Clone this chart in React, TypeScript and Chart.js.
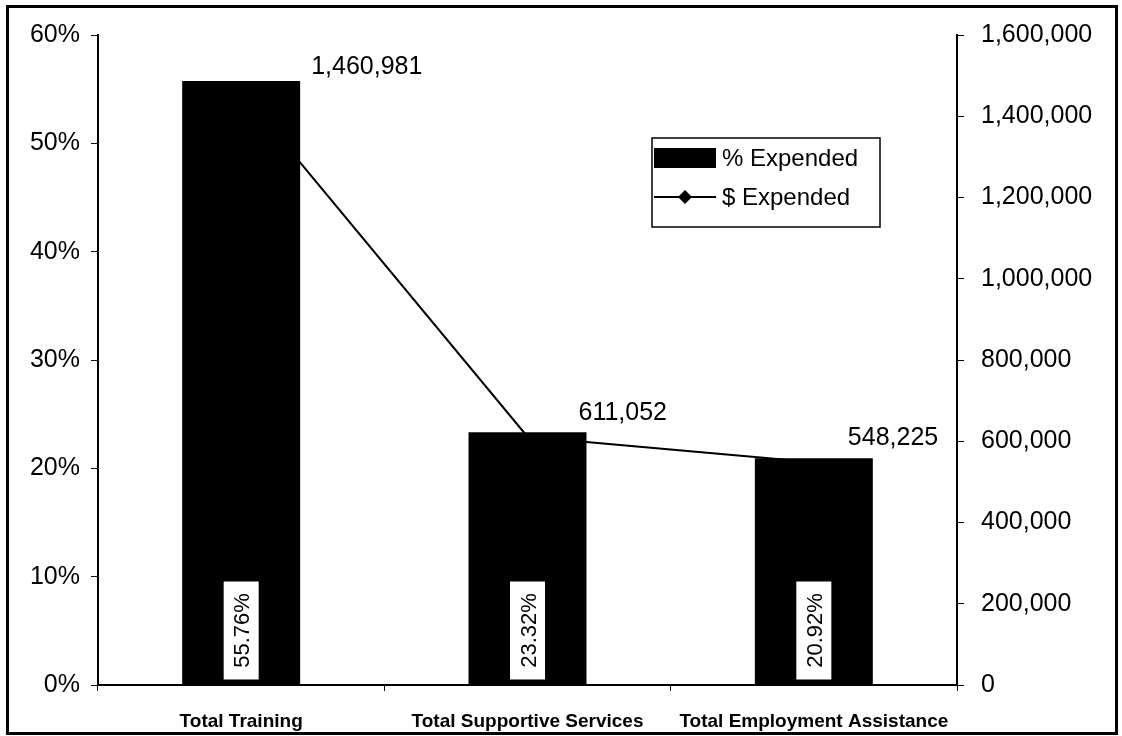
import React, { useEffect, useRef } from "react";
import { Chart, registerables } from "chart.js";

Chart.register(...registerables);

const categories = ["Total Training", "Total Supportive Services", "Total Employment Assistance"];
const pctExpended = [55.76, 23.32, 20.92];
const dollarExpended = [1460981, 611052, 548225];
const pctTicks = { min: 0, max: 60, step: 10 };
const dollarTicks = { min: 0, max: 1600000, step: 200000 };
const seriesNames = ["% Expended", "$ Expended"];

const FONT = "'Liberation Sans', Arial, sans-serif";
const fmt = (v: number) => v.toLocaleString("en-US");

const labelsPlugin = {
  id: "customLabels",
  afterDatasetsDraw(chart: any) {
    const ctx = chart.ctx;
    ctx.save();
    // bar value boxes (rotated)
    const barMeta = chart.getDatasetMeta(0);
    barMeta.data.forEach((bar: any, i: number) => {
      const w = 35;
      const h = 98;
      const bottom = bar.base - 5;
      ctx.fillStyle = "#fff";
      ctx.fillRect(bar.x - w / 2, bottom - h, w, h);
      ctx.save();
      ctx.translate(bar.x + 1, bottom - h / 2);
      ctx.rotate(-Math.PI / 2);
      ctx.fillStyle = "#000";
      ctx.font = `22px ${FONT}`;
      ctx.textAlign = "center";
      ctx.textBaseline = "middle";
      ctx.fillText(pctExpended[i].toFixed(2) + "%", 0, 1);
      ctx.restore();
    });
    // line value labels
    const lineMeta = chart.getDatasetMeta(1);
    const dx = [70, 51, 34];
    lineMeta.data.forEach((pt: any, i: number) => {
      ctx.fillStyle = "#000";
      ctx.font = `25px ${FONT}`;
      ctx.textAlign = "left";
      ctx.textBaseline = "middle";
      ctx.fillText(fmt(dollarExpended[i]), pt.x + dx[i], pt.y - 24);
    });
    // legend
    const lx = 652, ly = 138, lw = 228, lh = 89;
    ctx.fillStyle = "#fff";
    ctx.fillRect(lx, ly, lw, lh);
    ctx.strokeStyle = "#000";
    ctx.lineWidth = 1.5;
    ctx.strokeRect(lx, ly, lw, lh);
    ctx.fillStyle = "#000";
    ctx.fillRect(lx + 2, ly + 10, 62, 20);
    ctx.beginPath();
    ctx.lineWidth = 2;
    ctx.moveTo(lx + 2, ly + 59);
    ctx.lineTo(lx + 64, ly + 59);
    ctx.stroke();
    const cx = lx + 33, cy = ly + 59, r = 7;
    ctx.beginPath();
    ctx.moveTo(cx, cy - r);
    ctx.lineTo(cx + r, cy);
    ctx.lineTo(cx, cy + r);
    ctx.lineTo(cx - r, cy);
    ctx.closePath();
    ctx.fill();
    ctx.font = `24px ${FONT}`;
    ctx.textAlign = "left";
    ctx.textBaseline = "middle";
    ctx.fillText(seriesNames[0], lx + 70, ly + 21);
    ctx.fillText(seriesNames[1], lx + 70, ly + 60);
    ctx.restore();
  },
};

export default function App() {
  const ref = useRef<HTMLCanvasElement>(null);
  useEffect(() => {
    if (!ref.current) return;
    const chart = new Chart(ref.current, {
      type: "bar",
      data: {
        labels: categories,
        datasets: [
          {
            type: "bar",
            label: seriesNames[0],
            data: pctExpended,
            backgroundColor: "#000",
            borderWidth: 0,
            categoryPercentage: 1,
            barPercentage: 0.412,
            yAxisID: "y",
            order: 1,
          },
          {
            type: "line",
            label: seriesNames[1],
            data: dollarExpended,
            borderColor: "#000",
            backgroundColor: "#000",
            borderWidth: 2,
            pointStyle: "rectRot",
            pointRadius: 0,
            tension: 0,
            yAxisID: "y1",
            order: 2,
          },
        ],
      },
      options: {
        responsive: false,
        animation: false,
        layout: { padding: { top: 35, left: 0, right: 0, bottom: 0 } },
        plugins: {
          legend: { display: false },
          tooltip: { enabled: false },
        },
        scales: {
          x: {
            offset: true,
            grid: { display: true, offset: true, drawOnChartArea: false, tickLength: 6, color: "#000", lineWidth: 1 },
            border: { display: true, color: "#000", width: 2 },
            ticks: { color: "#000", font: { family: FONT, size: 19, weight: "bold" }, padding: 19, maxRotation: 0, autoSkip: false },
            afterFit: (s: any) => { s.height = 51; },
          },
          y: {
            position: "left",
            min: pctTicks.min,
            max: pctTicks.max,
            grid: { display: true, drawOnChartArea: false, tickLength: 7, color: "#000", lineWidth: 1 },
            border: { display: true, color: "#000", width: 2 },
            ticks: {
              stepSize: pctTicks.step,
              color: "#000",
              font: { family: FONT, size: 25 },
              padding: 11,
              callback: (v: any) => v + "%",
            },
            afterFit: (s: any) => { s.width = 98; },
          },
          y1: {
            position: "right",
            min: dollarTicks.min,
            max: dollarTicks.max,
            grid: { display: true, drawOnChartArea: false, tickLength: 7, color: "#000", lineWidth: 1 },
            border: { display: true, color: "#000", width: 2 },
            ticks: {
              stepSize: dollarTicks.step,
              color: "#000",
              font: { family: FONT, size: 25 },
              padding: 17,
              callback: (v: any) => fmt(Number(v)),
            },
            afterFit: (s: any) => { s.width = 165; },
          },
        },
      },
      plugins: [labelsPlugin],
    } as any);
    return () => chart.destroy();
  }, []);
  return (
    <div style={{ position: "fixed", left: 0, top: 0, width: 1122, height: 736, background: "#fff" }}>
      <canvas ref={ref} width={1122} height={736} style={{ display: "block" }} />
      <div
        style={{
          position: "absolute",
          left: 6,
          top: 5,
          width: 1106,
          height: 724,
          border: "3px solid #000",
          pointerEvents: "none",
        }}
      />
    </div>
  );
}
